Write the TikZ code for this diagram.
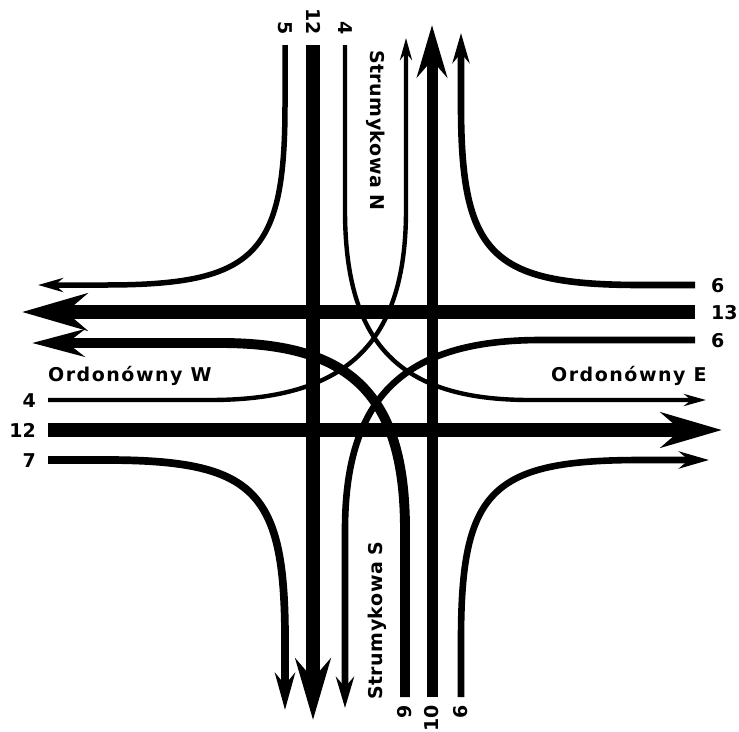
\documentclass[tikz,border=0pt]{standalone}
\usepackage{fontspec}
\setmainfont{DejaVu Sans}
\newfontfamily\labfont[LetterSpace=2.5]{DejaVu Sans}
\newfontfamily\labfontw[LetterSpace=8]{DejaVu Sans}
\usetikzlibrary{arrows.meta}
\begin{document}
\begin{tikzpicture}[x=1pt,y=-1pt,
  flow/.style n args={3}{line width=#1pt, -{Stealth[length=#2pt,width=#3pt]}},
  num/.style={font=\fontsize{19}{19}\selectfont\bfseries, inner sep=0pt},
  street/.style={font=\labfont\fontsize{19}{19}\selectfont\bfseries, inner sep=0pt},
  streetw/.style={font=\labfontw\fontsize{19}{19}\selectfont\bfseries, inner sep=0pt}]
\useasboundingbox (0,0) rectangle (739,731);
% end points
\coordinate (N5) at (285,45);   \coordinate (W5) at (38,285);
\coordinate (N12) at (313,45);  \coordinate (S12) at (313,720);
\coordinate (N4) at (345,45);   \coordinate (E4) at (706,400);
\coordinate (Wa4) at (48,400);  \coordinate (Nt4) at (406,38);
\coordinate (Wa12) at (48,430); \coordinate (Et12) at (722,430);
\coordinate (Wa7) at (48,460);  \coordinate (St7) at (285,710);
\coordinate (Ea6) at (695,285); \coordinate (Nt6) at (461,33);
\coordinate (Ea13) at (695,312);\coordinate (Wt13) at (22,312);
\coordinate (Eb6) at (695,340); \coordinate (St6) at (345,708);
\coordinate (Sa9) at (405,697); \coordinate (Wt9) at (32,343);
\coordinate (Sa10) at (432,697);\coordinate (Nt10) at (432,25);
\coordinate (Sa6) at (461,697); \coordinate (Et6) at (709,460);
% through flows
\draw[flow={13.2}{61}{35}] (N12) -- (S12);
\draw[flow={11}{52}{30}] (Sa10) -- (Nt10);
\draw[flow={14.3}{65}{37}] (Ea13) -- (Wt13);
\draw[flow={13.2}{61}{35}] (Wa12) -- (Et12);
% right turns
\draw[flow={5.5}{25}{14}] (N5) -- (285,105) .. controls (285,255) and (255,285) .. (105,285) -- (W5);
\draw[flow={6.6}{30}{17}] (Ea6) -- (641,285) .. controls (491,285) and (461,255) .. (461,105) -- (Nt6);
\draw[flow={7.7}{37}{20}] (Wa7) -- (105,460) .. controls (255,460) and (285,490) .. (285,640) -- (St7);
\draw[flow={6.6}{30}{17}] (Sa6) -- (461,640) .. controls (461,490) and (491,460) .. (641,460) -- (Et6);
% left turns
\draw[flow={4.4}{22}{12}] (N4) -- (345,210) .. controls (345,345) and (400,400) .. (530,400) -- (E4);
\draw[flow={4.4}{22}{12}] (Wa4) -- (210,400) .. controls (345,400) and (406,345) .. (406,210) -- (Nt4);
\draw[flow={6.6}{31}{18}] (Eb6) -- (541,340) .. controls (406,340) and (345,395) .. (345,530) -- (St6);
\draw[flow={9.9}{52}{27}] (Sa9) -- (405,530) .. controls (405,395) and (351,343) .. (221,343) -- (Wt9);
% volume labels
\node[num, rotate=-90, anchor=base east] (lN5) at (278.5,35) {5};
\node[num, rotate=-90, anchor=base east] (lN12) at (306.5,35) {12};
\node[num, rotate=-90, anchor=base east] (lN4) at (338.5,35) {4};
\node[num, rotate=90, anchor=base east] (lS9) at (411.5,705) {9};
\node[num, rotate=90, anchor=base east] (lS10) at (438.5,705) {10};
\node[num, rotate=90, anchor=base east] (lS6) at (467.5,705) {6};
\node[num, anchor=base east] (lW4) at (36,407) {4};
\node[num, anchor=base east] (lW12) at (36,437) {12};
\node[num, anchor=base east] (lW7) at (36,467) {7};
\node[num, anchor=base west] (lE6a) at (711,292) {6};
\node[num, anchor=base west] (lE13) at (711,319) {13};
\node[num, anchor=base west] (lE6b) at (711,347) {6};
% street names
\node[streetw, anchor=base west] (ow) at (48,381) {Ordonówny W};
\node[streetw, anchor=base west] (oe) at (551,381) {Ordonówny E};
\node[street, rotate=-90, anchor=base west] (sn) at (370,50) {Strumykowa N};
\node[street, rotate=90, anchor=base west] (ss) at (382,700) {Strumykowa S};
\end{tikzpicture}
\end{document}
